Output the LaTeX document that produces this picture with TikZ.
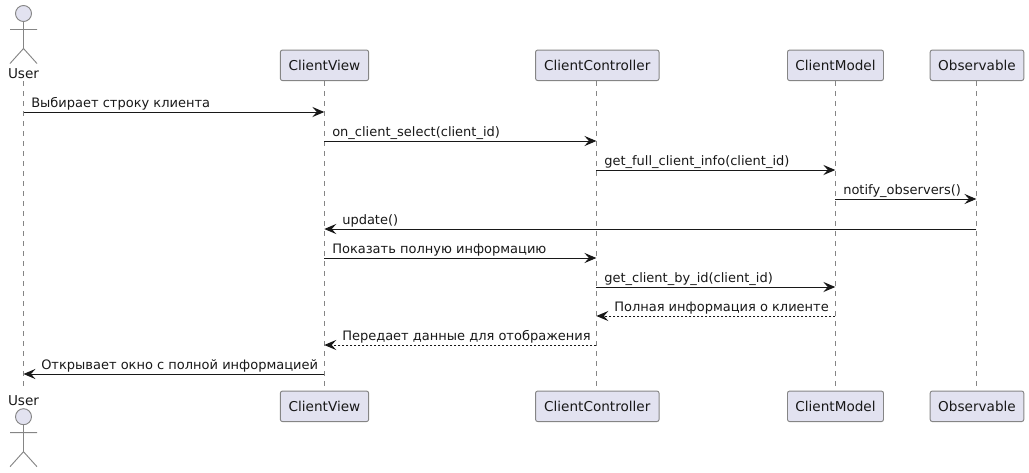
\documentclass[tikz,border=0pt]{standalone}
\usepackage{fontspec}
\setmainfont{DejaVu Sans}
\usetikzlibrary{arrows.meta}
\definecolor{boxfill}{HTML}{E2E2F0}
\definecolor{ink}{HTML}{181818}
\definecolor{edge}{HTML}{858585}
\tikzset{
  x=0.75pt,y=-0.75pt,
  party/.style={draw=edge,line width=0.7pt,fill=boxfill,rounded corners=1.6pt,minimum height=22.9pt,inner sep=0pt,font=\fontsize{10.2pt}{12pt}\selectfont,text=ink},
  lifeline/.style={draw=edge,line width=0.6pt,dash pattern=on 3.75pt off 3.75pt},
  actorline/.style={draw=edge,line width=0.7pt,fill=boxfill},
  actorlabel/.style={inner sep=0pt,font=\fontsize{10.2pt}{12pt}\selectfont,text=ink},
  msg/.style={draw=ink,line width=0.75pt,-{Stealth[length=9pt,width=7.6pt,inset=3.4pt]}},
  reply/.style={msg,dash pattern=on 1.5pt off 1.5pt},
  msglabel/.style={anchor=base west,inner sep=0pt,font=\fontsize{9.75pt}{12pt}\selectfont,text=ink},
}
\newcommand{\lifel}[2]{\draw[lifeline] (#1) -- (#2);}
\newcommand{\actorfig}[1]{%
  \draw[actorline] (23.5,#1) circle[radius=8];
  \draw[actorline,fill=none] (23.5,#1+8) -- (23.5,#1+35) (10,#1+16) -- (37,#1+16) (10,#1+50) -- (23.5,#1+35) -- (37,#1+50);
}
\begin{document}
\begin{tikzpicture}
\useasboundingbox (0,0) rectangle (1029,472);
% lifeline ends
\coordinate (U1) at (23.5,81);
\coordinate (U2) at (23.5,391);
\coordinate (V1) at (324.3,81);
\coordinate (V2) at (324.3,391);
\coordinate (C1) at (596.4,81);
\coordinate (C2) at (596.4,391);
\coordinate (M1) at (835.3,81);
\coordinate (M2) at (835.3,391);
\coordinate (O1) at (976.4,81);
\coordinate (O2) at (976.4,391);
\lifel{U1}{U2}
\lifel{V1}{V2}
\lifel{C1}{C2}
\lifel{M1}{M2}
\lifel{O1}{O2}
% participants
\node[actorlabel] (UT) at (23.5,73.7) {User};
\node[actorlabel] (UB) at (23.5,400.7) {User};
\node[party,minimum width=66.2pt] (VT) at (324.5,65.3) {ClientView};
\node[party,minimum width=92.6pt] (CT) at (597.3,65.3) {ClientController};
\node[party,minimum width=72pt] (MT) at (835.5,65.3) {ClientModel};
\node[party,minimum width=70.2pt] (OT) at (977,65.3) {Observable};
\node[party,minimum width=66.2pt] (VB) at (324.5,406.3) {ClientView};
\node[party,minimum width=92.6pt] (CB) at (597.3,406.3) {ClientController};
\node[party,minimum width=72pt] (MB) at (835.5,406.3) {ClientModel};
\node[party,minimum width=70.2pt] (OB) at (977,406.3) {Observable};
\actorfig{13.5}
\actorfig{416.7}
% messages
\draw[msg] (U1 |- 0,112) -- (V1 |- 0,112);
\node[msglabel] (m1) at (31,107.7) {Выбирает строку клиента};
\draw[msg] (V1 |- 0,141) -- (C1 |- 0,141);
\node[msglabel] (m2) at (332,136.7) {on\_client\_select(client\_id)};
\draw[msg] (C1 |- 0,170) -- (M1 |- 0,170);
\node[msglabel] (m3) at (604,165.7) {get\_full\_client\_info(client\_id)};
\draw[msg] (M1 |- 0,199) -- (O1 |- 0,199);
\node[msglabel] (m4) at (843,194.7) {notify\_observers()};
\draw[msg] (O1 |- 0,229) -- (V1 |- 0,229);
\node[msglabel] (m5) at (342,224.7) {update()};
\draw[msg] (V1 |- 0,258) -- (C1 |- 0,258);
\node[msglabel] (m6) at (332,253.7) {Показать полную информацию};
\draw[msg] (C1 |- 0,287) -- (M1 |- 0,287);
\node[msglabel] (m7) at (604,282.7) {get\_client\_by\_id(client\_id)};
\draw[reply] (M1 |- 0,316) -- (C1 |- 0,316);
\node[msglabel] (m8) at (614,311.7) {Полная информация о клиенте};
\draw[reply] (C1 |- 0,345) -- (V1 |- 0,345);
\node[msglabel] (m9) at (342,340.7) {Передает данные для отображения};
\draw[msg] (V1 |- 0,374) -- (U1 |- 0,374);
\node[msglabel] (m10) at (41,369.7) {Открывает окно с полной информацией};
\end{tikzpicture}
\end{document}
